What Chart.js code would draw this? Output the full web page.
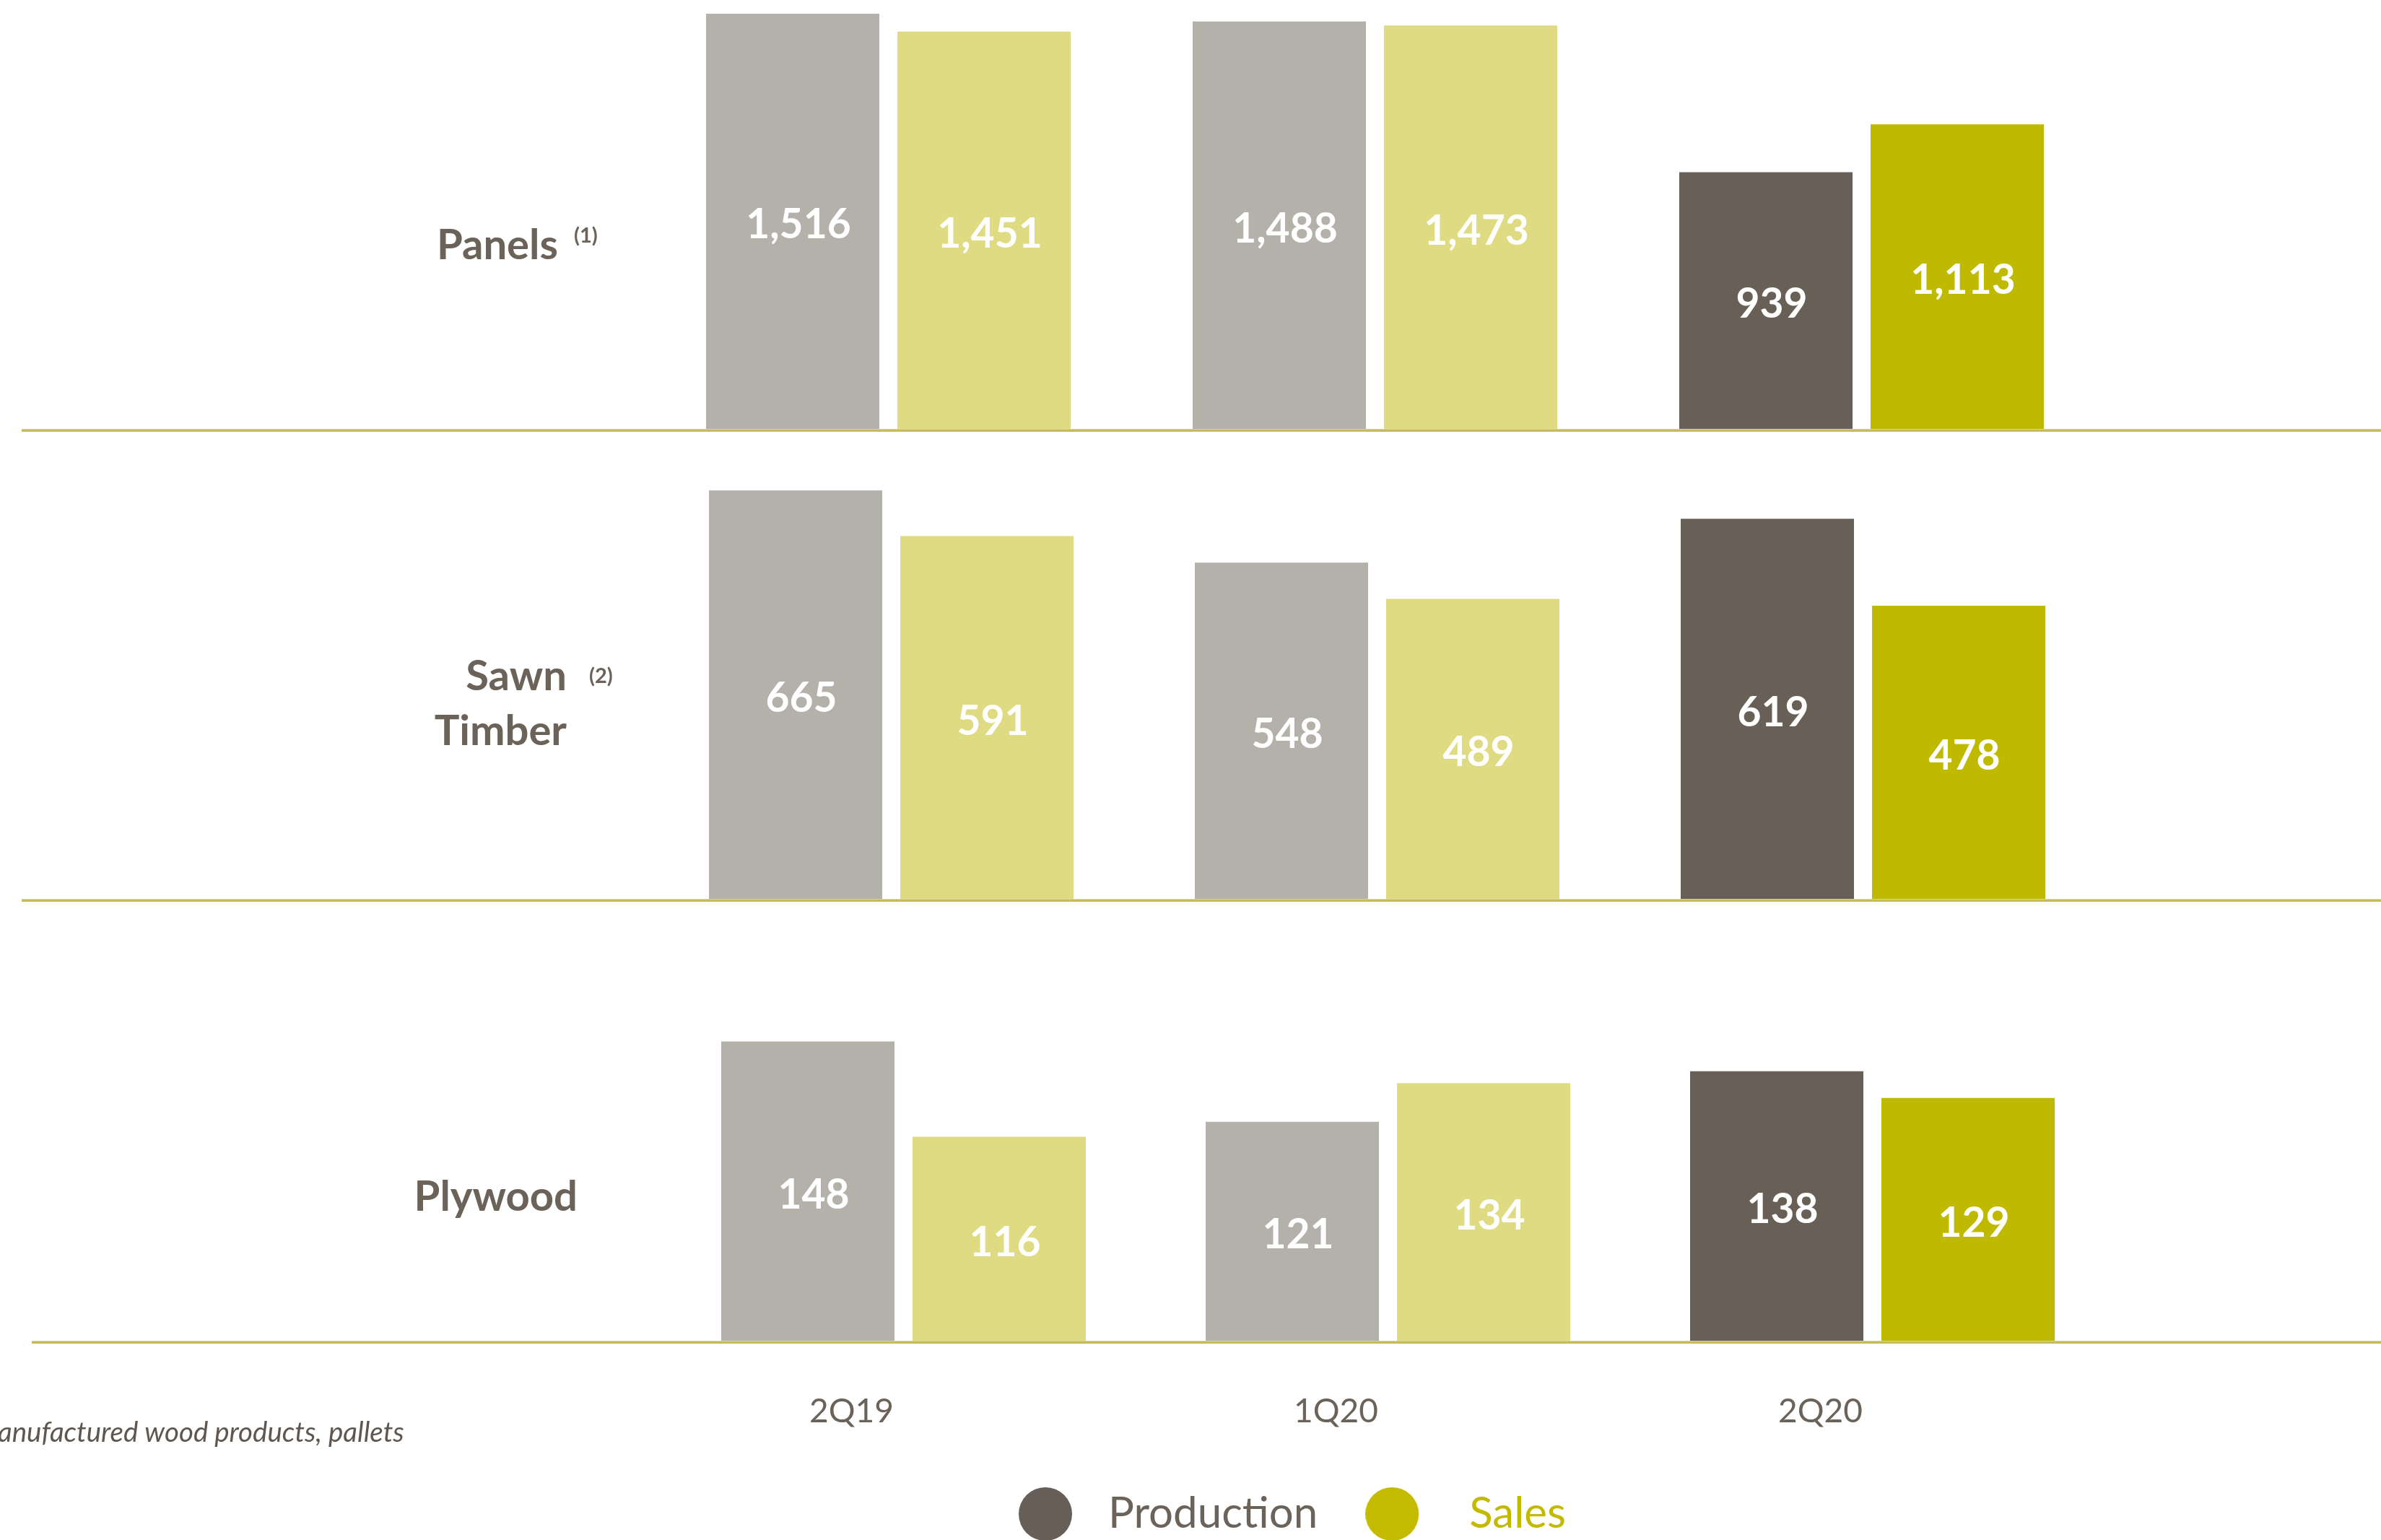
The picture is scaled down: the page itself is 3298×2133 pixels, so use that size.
<!DOCTYPE html>
<html>
<head>
<meta charset="utf-8">
<script src="https://cdn.jsdelivr.net/npm/chart.js"></script>
<style>
  html, body { margin: 0; padding: 0; background: #ffffff; overflow: hidden; }
  #stage { position: relative; width: 3298px; height: 2133px; overflow: hidden; background: #ffffff; }
  #stage canvas { position: absolute; left: 0; }
</style>
</head>
<body>
<div id="stage">
  <canvas id="cPanels"></canvas>
  <canvas id="cSawn"></canvas>
  <canvas id="cPlywood"></canvas>
</div>
<script>
// ---------------- data ----------------
const categories = ['2Q19', '1Q20', '2Q20'];
const seriesNames = ['Production', 'Sales'];
const panelsProduction = [1516, 1488, 939];
const panelsSales = [1451, 1473, 1113];
const sawnProduction = [665, 548, 619];
const sawnSales = [591, 489, 478];
const plywoodProduction = [148, 121, 138];
const plywoodSales = [116, 134, 129];
const rowTitlePanels = ['Panels', '(1)'];
const rowTitleSawn = ['Sawn', '(2)', 'Timber'];
const rowTitlePlywood = ['Plywood'];
const footnoteText = 'anufactured wood products, pallets';

// ---------------- styles ----------------
const TEXT = '#6b6259';
const prodColors = ['#b4b1ab', '#b4b1ab', '#686057'];
const salesColors = ['#dfdb82', '#dfdb82', '#bfb900'];
const legendFill = ['#675f57', '#c4bb00'];
const legendText = ['#6b6259', '#c2b900'];
const legendDotOffset = [20, 0];
Chart.defaults.font.family = 'Lato';

function legendDot(color, offset) {
  const c = document.createElement('canvas');
  c.width = 114; c.height = 74;
  const g = c.getContext('2d');
  g.fillStyle = color;
  g.beginPath();
  g.ellipse(offset + 37, 37, 37, 37, 0, 0, Math.PI * 2);
  g.fill();
  return c;
}

const baselinePlugin = {
  id: 'baseline',
  afterDatasetsDraw(chart, args, opts) {
    const ys = chart.scales.y;
    const y = ys.getPixelForValue(ys.min);
    const ctx = chart.ctx;
    ctx.save();
    ctx.fillStyle = '#c5bb5a';
    ctx.fillRect(opts.x0, y - 2, chart.width - opts.x0, 4);
    ctx.fillStyle = '#d9d49e';
    ctx.fillRect(opts.x0, y - 2, chart.width - opts.x0, 1);
    ctx.restore();
  }
};

const valueLabelPlugin = {
  id: 'valueLabels',
  afterDatasetsDraw(chart) {
    const ctx = chart.ctx;
    const bottom = chart.chartArea.bottom;
    ctx.save();
    ctx.font = 'bold 57px Lato';
    ctx.fillStyle = '#ffffff';
    ctx.textAlign = 'center';
    ctx.textBaseline = 'alphabetic';
    chart.data.datasets.forEach((ds, i) => {
      chart.getDatasetMeta(i).data.forEach((bar, j) => {
        const p = bar.getProps(['x', 'y', 'base'], true);
        const base = Math.min(p.base, bottom);
        ctx.fillText(ds.data[j].toLocaleString('en-US'), p.x + 8, (p.y + base) / 2 + 23);
      });
    });
    ctx.restore();
  }
};

const pageTextPlugin = {
  id: 'pageText',
  afterDraw(chart, args, opts) {
    const ctx = chart.ctx;
    ctx.save();
    ctx.textBaseline = 'alphabetic';
    (opts.items || []).forEach(it => {
      ctx.font = it.font;
      ctx.fillStyle = it.color;
      ctx.textAlign = it.align;
      ctx.fillText(it.text, it.x, it.y - opts.top);
    });
    ctx.restore();
  }
};

function datasetsFor(prod, sales, catPct) {
  return [
    { label: seriesNames[0], data: prod, backgroundColor: prodColors, borderWidth: 0,
      categoryPercentage: catPct, barPercentage: 240 / 265 },
    { label: seriesNames[1], data: sales, backgroundColor: salesColors, borderWidth: 0,
      categoryPercentage: catPct, barPercentage: 240 / 265 }
  ];
}

function setupCanvas(id, w, h, top) {
  const c = document.getElementById(id);
  c.width = w; c.height = h;
  c.style.width = w + 'px'; c.style.height = h + 'px';
  c.style.top = top + 'px';
  return c;
}

const ROW_FONT = 'bold 58px Lato';
const SUP_FONT = 'bold 29px Lato';

// ---------------- Panels ----------------
const topPanels = -13;
new Chart(setupCanvas('cPanels', 3298, 619, topPanels), {
  type: 'bar',
  data: { labels: categories, datasets: datasetsFor(panelsProduction, panelsSales, 530 / 674) },
  options: {
    responsive: false, animation: false, devicePixelRatio: 1,
    layout: { padding: { left: 893.5, right: 382.5, top: 0, bottom: 10 } },
    scales: {
      x: { display: false },
      y: { display: false, min: 0, max: 1600 }
    },
    plugins: {
      legend: { display: false }, tooltip: { enabled: false },
      baseline: { x0: 30 },
      pageText: { top: topPanels, items: [
        { text: rowTitlePanels[0], x: 773, y: 359, align: 'right', font: ROW_FONT, color: TEXT },
        { text: rowTitlePanels[1], x: 795, y: 336, align: 'left', font: SUP_FONT, color: TEXT }
      ] }
    }
  },
  plugins: [baselinePlugin, valueLabelPlugin, pageTextPlugin]
});

// ---------------- Sawn Timber ----------------
const topSawn = 564;
new Chart(setupCanvas('cSawn', 3298, 695, topSawn), {
  type: 'bar',
  data: { labels: categories, datasets: datasetsFor(sawnProduction, sawnSales, 530 / 673) },
  options: {
    responsive: false, animation: false, devicePixelRatio: 1,
    layout: { padding: { left: 898, right: 381, top: 0, bottom: 12 } },
    scales: {
      x: { display: false },
      y: { display: false, min: 0, max: 800 }
    },
    plugins: {
      legend: { display: false }, tooltip: { enabled: false },
      baseline: { x0: 30 },
      pageText: { top: topSawn, items: [
        { text: rowTitleSawn[0], x: 785, y: 956, align: 'right', font: ROW_FONT, color: TEXT },
        { text: rowTitleSawn[1], x: 816, y: 946, align: 'left', font: SUP_FONT, color: TEXT },
        { text: rowTitleSawn[2], x: 785, y: 1032, align: 'right', font: ROW_FONT, color: TEXT }
      ] }
    }
  },
  plugins: [baselinePlugin, valueLabelPlugin, pageTextPlugin]
});

// ---------------- Plywood (with category axis + legend) ----------------
const topPlywood = 1228;
new Chart(setupCanvas('cPlywood', 3560, 909, topPlywood), {
  type: 'bar',
  data: { labels: categories, datasets: datasetsFor(plywoodProduction, plywoodSales, 530 / 671) },
  options: {
    responsive: false, animation: false, devicePixelRatio: 1,
    layout: { padding: 0 },
    scales: {
      x: {
        display: true, position: 'bottom',
        grid: { display: false, drawTicks: false },
        border: { display: false },
        ticks: { color: TEXT, font: { family: 'Lato', size: 46, lineHeight: 1.2 },
                 padding: 69, align: 'center', labelOffset: -72, maxRotation: 0, autoSkip: false },
        afterFit(s) { s.height = 142; }
      },
      y: {
        display: true, position: 'left', min: 47, max: 200,
        grid: { display: false, drawTicks: false }, border: { display: false },
        ticks: { display: false },
        afterFit(s) { s.width = 916; }
      },
      yR: {
        type: 'linear', display: true, position: 'right',
        grid: { display: false, drawTicks: false }, border: { display: false },
        ticks: { display: false },
        afterFit(s) { s.width = 631; }
      }
    },
    plugins: {
      tooltip: { enabled: false },
      legend: {
        display: true, position: 'bottom', align: 'center',
        labels: {
          usePointStyle: true, pointStyleWidth: 114, boxHeight: 52.3,
          padding: 66,
          font: { family: 'Lato', size: 60 },
          generateLabels: (chart) => chart.data.datasets.map((ds, i) => ({
            text: ds.label, fillStyle: legendFill[i], strokeStyle: legendFill[i],
            lineWidth: 0, fontColor: legendText[i],
            pointStyle: legendDot(legendFill[i], legendDotOffset[i]),
            hidden: false, datasetIndex: i
          }))
        }
      },
      baseline: { x0: 44 },
      pageText: { top: topPlywood, items: [
        { text: rowTitlePlywood[0], x: 800, y: 1677, align: 'right', font: ROW_FONT, color: TEXT },
        { text: footnoteText, x: -3, y: 1997, align: 'left', font: 'italic 38.5px Lato', color: '#5f574f' }
      ] }
    }
  },
  plugins: [baselinePlugin, valueLabelPlugin, pageTextPlugin]
});
</script>
</body>
</html>
